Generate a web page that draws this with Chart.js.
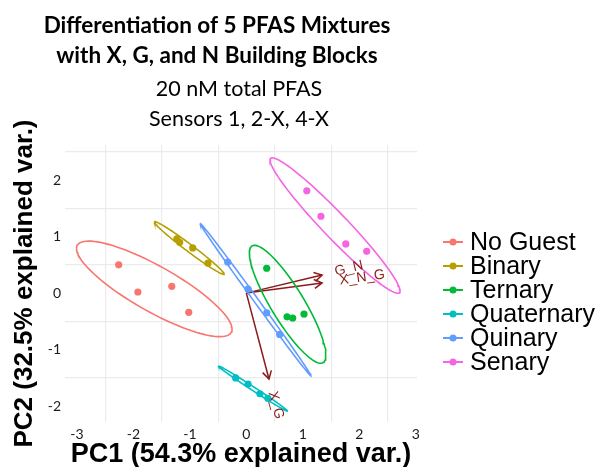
<!DOCTYPE html>
<html>
<head>
<meta charset="utf-8">
<script src="https://cdn.jsdelivr.net/npm/chart.js@4.4.1/dist/chart.umd.min.js"></script>
<style>
  html, body { margin: 0; padding: 0; background: #fff; }
  #wrap { width: 597px; height: 467px; }
</style>
</head>
<body>
<div id="wrap"><canvas id="pca"></canvas></div>
<script>
// groups and their ggplot default hue colours
const groups = ['No Guest', 'Binary', 'Ternary', 'Quaternary', 'Quinary', 'Senary'];
const groupColors = ['#F8766D', '#B79F00', '#00BA38', '#00BFC4', '#619CFF', '#F564E3'];

// PC scores (4 replicates per group)
const pc1NoGuest = [-2.26, -1.92, -1.32, -1.02];
const pc2NoGuest = [0.50, 0.02, 0.12, -0.34];
const pc1Binary = [-1.23, -1.18, -0.95, -0.68];
const pc2Binary = [0.96, 0.90, 0.80, 0.53];
const pc1Ternary = [0.36, 0.72, 0.82, 1.02];
const pc2Ternary = [0.44, -0.42, -0.44, -0.37];
const pc1Quaternary = [-0.19, 0.03, 0.24, 0.38];
const pc2Quaternary = [-1.50, -1.61, -1.78, -1.86];
const pc1Quinary = [-0.33, 0.03, 0.36, 0.59];
const pc2Quinary = [0.55, 0.07, -0.35, -0.73];
const pc1Senary = [1.07, 1.32, 1.76, 2.13];
const pc2Senary = [1.81, 1.36, 0.87, 0.74];

// loading vectors (biplot arrows)
const arrowNames = ['G_N', 'X_N_G', 'X_G'];
const arrowPC1 = [1.34, 1.34, 0.40];
const arrowPC2 = [0.32, 0.18, -1.52];

// tick labels
const xTickValues = [-3, -2, -1, 0, 1, 2, 3];
const yTickValues = [-2, -1, 0, 1, 2];

const titleLines = ['Differentiation of 5 PFAS Mixtures', 'with X, G, and N Building Blocks'];
const subtitleLines = ['20 nM total PFAS', 'Sensors 1, 2-X, 4-X'];

const pc1Scores = [pc1NoGuest, pc1Binary, pc1Ternary, pc1Quaternary, pc1Quinary, pc1Senary];
const pc2Scores = [pc2NoGuest, pc2Binary, pc2Ternary, pc2Quaternary, pc2Quinary, pc2Senary];

// 95% normal ellipse, same recipe as ggbiplot
function ellipse(xs, ys, prob) {
    const n = xs.length;
    const mx = xs.reduce((a, b) => a + b) / n;
    const my = ys.reduce((a, b) => a + b) / n;
    let sxx = 0, syy = 0, sxy = 0;
    for (let i = 0; i < n; i++) {
        sxx += (xs[i] - mx) ** 2;
        syy += (ys[i] - my) ** 2;
        sxy += (xs[i] - mx) * (ys[i] - my);
    }
    sxx /= n - 1; syy /= n - 1; sxy /= n - 1;
    const a = Math.sqrt(sxx);
    const b = sxy / a;
    const c = Math.sqrt(Math.max(syy - b * b, 0));
    const ed = Math.sqrt(-2 * Math.log(1 - prob));
    const pts = [];
    for (let k = 0; k <= 100; k++) {
        const t = -Math.PI + 2 * Math.PI * k / 100;
        const u = Math.cos(t), v = Math.sin(t);
        pts.push({ x: mx + ed * u * a, y: my + ed * (u * b + v * c) });
    }
    return pts;
}

// grid lines sit half way between the labelled ticks
function halfSteps(vals) {
    const out = [vals[0] - 0.5];
    vals.forEach(v => out.push(v + 0.5));
    return out;
}

const datasets = [];
groups.forEach((g, i) => {
    datasets.push({
        label: g,
        data: ellipse(pc1Scores[i], pc2Scores[i], 0.95),
        showLine: true,
        borderColor: groupColors[i],
        borderWidth: 1.6,
        pointRadius: 0,
        fill: false,
        order: 0
    });
    datasets.push({
        label: g + ' points',
        data: pc1Scores[i].map((v, j) => ({ x: v, y: pc2Scores[i][j] })),
        backgroundColor: groupColors[i],
        borderColor: groupColors[i],
        pointRadius: 3.6,
        borderWidth: 0,
        order: 1
    });
});
arrowNames.forEach((name, i) => {
    datasets.push({
        label: name,
        data: [{ x: 0, y: 0 }, { x: arrowPC1[i], y: arrowPC2[i] }],
        showLine: true,
        borderColor: '#8B1A1A',
        borderWidth: 1.5,
        pointRadius: 0,
        order: 2
    });
});

const extras = {
    id: 'extras',
    afterDatasetsDraw(chart) {
        const { ctx, scales: { x, y } } = chart;
        ctx.save();
        ctx.strokeStyle = '#8B1A1A';
        ctx.fillStyle = '#8B1A1A';
        ctx.lineWidth = 1.5;
        ctx.font = '14px "Liberation Sans", Arial, sans-serif';
        ctx.textBaseline = 'middle';
        ctx.textAlign = 'left';
        const x0 = x.getPixelForValue(0), y0 = y.getPixelForValue(0);
        arrowNames.forEach((name, i) => {
            const x1 = x.getPixelForValue(arrowPC1[i]);
            const y1 = y.getPixelForValue(arrowPC2[i]);
            const a = Math.atan2(y1 - y0, x1 - x0);
            const len = 9;
            ctx.beginPath();
            ctx.moveTo(x1 - len * Math.cos(a - Math.PI / 6), y1 - len * Math.sin(a - Math.PI / 6));
            ctx.lineTo(x1, y1);
            ctx.lineTo(x1 - len * Math.cos(a + Math.PI / 6), y1 - len * Math.sin(a + Math.PI / 6));
            ctx.stroke();
            // label, rotated like ggbiplot (hjust -0.25)
            const w = ctx.measureText(name).width;
            const off = 0.25 * w + 6;
            ctx.save();
            ctx.translate(x1 + off * Math.cos(a), y1 + off * Math.sin(a));
            ctx.rotate(a);
            ctx.fillText(name, 0, 0);
            ctx.restore();
        });
        ctx.restore();
    },
    afterDraw(chart) {
        const { ctx } = chart;
        ctx.save();
        ctx.fillStyle = '#000';
        ctx.textAlign = 'center';
        ctx.textBaseline = 'middle';
        ctx.font = 'bold 22.5px Lato, sans-serif';
        ctx.fillText(titleLines[0], 217, 26);
        ctx.fillText(titleLines[1], 217, 56);
        ctx.font = '21.5px Lato, sans-serif';
        ctx.fillText(subtitleLines[0], 239, 89);
        ctx.fillText(subtitleLines[1], 239, 119);

        // legend
        ctx.textAlign = 'left';
        ctx.font = '25px "Liberation Sans", Arial, sans-serif';
        groups.forEach((g, i) => {
            const ly = 242 + i * 24;
            ctx.strokeStyle = groupColors[i];
            ctx.lineWidth = 2;
            ctx.beginPath();
            ctx.moveTo(443, ly);
            ctx.lineTo(463, ly);
            ctx.stroke();
            ctx.fillStyle = groupColors[i];
            ctx.beginPath();
            ctx.arc(453, ly, 3.5, 0, Math.PI * 2);
            ctx.fill();
            ctx.fillStyle = '#000';
            ctx.fillText(g, 470, ly + 1);
        });
        ctx.restore();
    }
};

function axis(ticksVals, min, max, title, titlePad, titleSize) {
    const grid = halfSteps(ticksVals).filter(v => v > min && v < max);
    return {
        type: 'linear',
        min, max,
        afterBuildTicks(scale) {
            scale.ticks = ticksVals.concat(grid).sort((a, b) => a - b).map(v => ({ value: v }));
        },
        ticks: {
            autoSkip: false,
            maxRotation: 0,
            padding: 4,
            color: '#1a1a1a',
            font: { family: 'Lato, sans-serif', size: 14 },
            callback: v => (Number.isInteger(v) ? String(v) : '')
        },
        grid: {
            color: c => (Number.isInteger(c.tick.value) ? 'rgba(0,0,0,0)' : '#ebebeb'),
            lineWidth: 1.2,
            drawTicks: false
        },
        border: { display: false },
        title: {
            display: true,
            text: title,
            color: '#000',
            font: { family: '"Liberation Sans", Arial, sans-serif', size: titleSize, weight: 'bold', lineHeight: 0.9 },
            padding: titlePad
        }
    };
}

const xScale = axis(xTickValues, -3.21, 3.02, 'PC1 (54.3% explained var.)', { top: 0, bottom: 0 }, 27);
xScale.afterFit = s => { s.height = 45; };
const yScale = axis(yTickValues, -2.28, 2.62, 'PC2 (32.5% explained var.)', { top: 13, bottom: 0 }, 26);
yScale.afterFit = s => { s.width = 65; };

new Chart(document.getElementById('pca'), {
    type: 'scatter',
    data: { datasets },
    options: {
        responsive: true,
        maintainAspectRatio: false,
        animation: false,
        layout: { padding: { top: 145, right: 180, left: 0, bottom: 0 } },
        plugins: {
            legend: { display: false },
            tooltip: { enabled: false }
        },
        scales: { x: xScale, y: yScale }
    },
    plugins: [extras]
});
</script>
</body>
</html>
